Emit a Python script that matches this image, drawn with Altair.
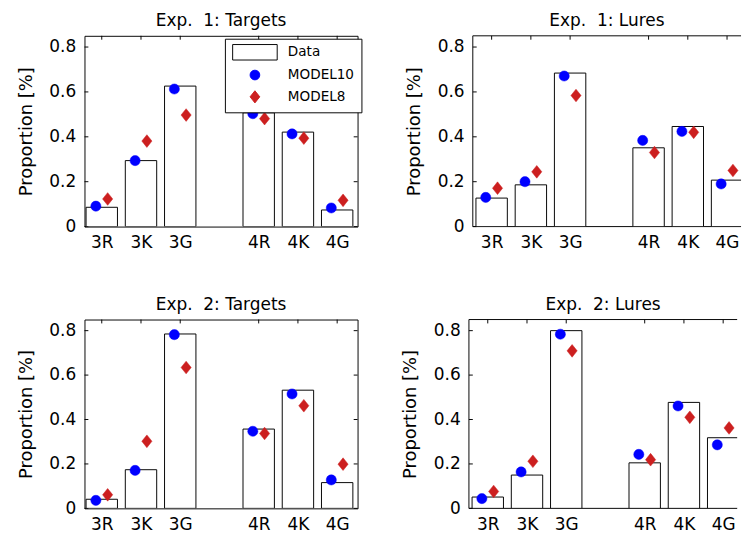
import altair as alt
import pandas as pd

# ---------------- data ----------------
categories = ["3R", "3K", "3G", "4R", "4K", "4G"]
positions = [1, 2, 3, 5, 6, 7]
y_ticks = [0, 0.2, 0.4, 0.6, 0.8]
series_names = ["Data", "MODEL10", "MODEL8"]

titles = ["Exp.\u00a0 1: Targets", "Exp.\u00a0 1: Lures",
          "Exp.\u00a0 2: Targets", "Exp.\u00a0 2: Lures"]

data_e1_targets = [0.086, 0.294, 0.626, 0.507, 0.421, 0.074]
model10_e1_targets = [0.091, 0.294, 0.613, 0.503, 0.413, 0.083]
model8_e1_targets = [0.123, 0.381, 0.497, 0.481, 0.394, 0.117]

data_e1_lures = [0.127, 0.186, 0.684, 0.351, 0.446, 0.207]
model10_e1_lures = [0.130, 0.200, 0.671, 0.384, 0.424, 0.190]
model8_e1_lures = [0.171, 0.244, 0.584, 0.330, 0.420, 0.250]

data_e2_targets = [0.041, 0.174, 0.785, 0.357, 0.532, 0.116]
model10_e2_targets = [0.036, 0.171, 0.782, 0.347, 0.515, 0.128]
model8_e2_targets = [0.061, 0.302, 0.634, 0.337, 0.462, 0.199]

data_e2_lures = [0.051, 0.150, 0.800, 0.205, 0.477, 0.318]
model10_e2_lures = [0.044, 0.164, 0.784, 0.243, 0.461, 0.286]
model8_e2_lures = [0.076, 0.212, 0.709, 0.219, 0.410, 0.362]

# ---------------- style ----------------
FONT = "DejaVu Sans"
BLUE = "#0000ff"
RED = "#cc1f1f"
RECT_PATH = "M-4.6,-1.6H4.6V1.6H-4.6Z"
DIAMOND_PATH = "M-1,0L0,-1.25L1,0L0,1.25Z"
W_LEFT = 282
W_RIGHT = 277          # right-hand panels are cut by the window edge
PX_PER_UNIT = W_LEFT / 6.96
XDOM_LEFT = [0.56, 7.52]
XDOM_RIGHT = [0.52, 0.52 + W_RIGHT / PX_PER_UNIT]
YDOM = [0, 0.85]
TICK = 4


def label_expr():
    expr = "''"
    for p, c in reversed(list(zip(positions, categories))):
        expr = f"datum.value == {p} ? '{c}' : ({expr})"
    return expr


def panel(title, d, m10, m8, with_legend, H, right):
    W = W_RIGHT if right else W_LEFT
    xs = alt.Scale(domain=XDOM_RIGHT if right else XDOM_LEFT, nice=False, zero=False)
    ys = alt.Scale(domain=YDOM, nice=False, zero=False)

    bars_df = pd.DataFrame({"pos": positions, "value": d})
    pts_df = pd.DataFrame({
        "pos": positions + positions,
        "value": m10 + m8,
        "series": [series_names[1]] * len(m10) + [series_names[2]] * len(m8),
    })
    yt_df = pd.DataFrame({"v": y_ticks})
    xt_df = pd.DataFrame({"p": positions})
    one = pd.DataFrame({"k": [0]})

    xaxis = alt.Axis(values=positions, labelExpr=label_expr(), ticks=False,
                     tickSize=0, domain=False, grid=False, title=None,
                     labelPadding=8, labelFontSize=17.5, labelFont=FONT,
                     labelColor="black", labelAngle=0)
    yaxis = alt.Axis(values=y_ticks, format=".1~f", ticks=False, tickSize=0,
                     domain=False, grid=False, title="Proportion [%]",
                     titleFontSize=18.5, titleFontWeight="normal", titleFont=FONT,
                     titleColor="black", titlePadding=14,
                     labelPadding=9, labelFontSize=17.5, labelFont=FONT,
                     labelColor="black")

    bars = alt.Chart(bars_df).transform_calculate(
        x0="datum.pos - 0.4", x1="datum.pos + 0.4"
    ).mark_rect(fill="white", stroke="black", strokeWidth=1, clip=True).encode(
        x=alt.X("x0:Q", scale=xs, axis=xaxis),
        x2="x1:Q",
        y=alt.Y("value:Q", scale=ys, axis=yaxis),
        y2=alt.datum(0),
    )

    if with_legend:
        leg = alt.Legend(title=None, orient="none", legendX=145, legendY=3,
                         direction="vertical", strokeColor="black",
                         fillColor="white", padding=7, rowPadding=6.5,
                         labelFontSize=14, labelFont=FONT, labelColor="black",
                         labelOffset=27, symbolOffset=17, symbolSize=100,
                         symbolStrokeWidth=1, labelLimit=200, cornerRadius=0)
    else:
        leg = None

    pts = alt.Chart(pts_df).transform_calculate(
        xp="datum.pos + (datum.series == 'MODEL10' ? -0.15 : 0.15)"
    ).mark_point(filled=True, size=110, strokeWidth=0.5, opacity=1, clip=True).encode(
        x=alt.X("xp:Q", scale=xs),
        y=alt.Y("value:Q", scale=ys),
        shape=alt.Shape("series:N", scale=alt.Scale(
            domain=series_names, range=[RECT_PATH, "circle", DIAMOND_PATH]),
            legend=leg),
        fill=alt.Fill("series:N", scale=alt.Scale(
            domain=series_names, range=["white", BLUE, RED]), legend=leg),
        stroke=alt.Stroke("series:N", scale=alt.Scale(
            domain=series_names, range=["black", BLUE, RED]), legend=leg),
    )

    rule = dict(color="black", strokeWidth=1)
    layers = [
        alt.Chart(yt_df).mark_rule(**rule).encode(
            y=alt.Y("v:Q", scale=ys), x=alt.value(0), x2=alt.value(TICK)),
        alt.Chart(xt_df).mark_rule(**rule).encode(
            x=alt.X("p:Q", scale=xs), y=alt.value(0), y2=alt.value(TICK)),
    ]
    if right:
        # frame without the right edge (it lies beyond the window)
        layers += [
            alt.Chart(one).mark_rule(**rule).encode(
                x=alt.value(0), y=alt.value(0), y2=alt.value(H)),
            alt.Chart(one).mark_rule(**rule).encode(
                x=alt.value(0), x2=alt.value(W), y=alt.value(0)),
            alt.Chart(one).mark_rule(**rule).encode(
                x=alt.value(0), x2=alt.value(W), y=alt.value(H)),
        ]
        view = alt.ViewBackground(strokeOpacity=0)
    else:
        layers.append(alt.Chart(yt_df).mark_rule(**rule).encode(
            y=alt.Y("v:Q", scale=ys), x=alt.value(W - TICK), x2=alt.value(W)))
        view = alt.ViewBackground(stroke="black", strokeWidth=1)

    return alt.layer(*layers, bars, pts).properties(
        width=W, height=H, view=view,
        title=alt.TitleParams(title, fontSize=17.5, fontWeight="normal",
                              font=FONT, color="black", anchor="middle",
                              frame="group", offset=6),
    )


p1 = panel(titles[0], data_e1_targets, model10_e1_targets, model8_e1_targets, True, 197, False)
p2 = panel(titles[1], data_e1_lures, model10_e1_lures, model8_e1_lures, False, 197, True)
p3 = panel(titles[2], data_e2_targets, model10_e2_targets, model8_e2_targets, False, 195, False)
p4 = panel(titles[3], data_e2_lures, model10_e2_lures, model8_e2_lures, False, 195, True)

res = dict(shape="independent", fill="independent", stroke="independent")
top = alt.hconcat(p1, p2, spacing=44).resolve_scale(**res).resolve_legend(**res)
bottom = alt.hconcat(p3, p4, spacing=44).resolve_scale(**res).resolve_legend(**res)

chart = alt.vconcat(top, bottom, spacing=45).resolve_scale(**res).resolve_legend(**res).properties(
    padding={"left": 8, "top": -5, "right": 0, "bottom": 0}
).configure(font=FONT)

chart.save("out.html", embed_options={"renderer": "svg", "actions": False})
